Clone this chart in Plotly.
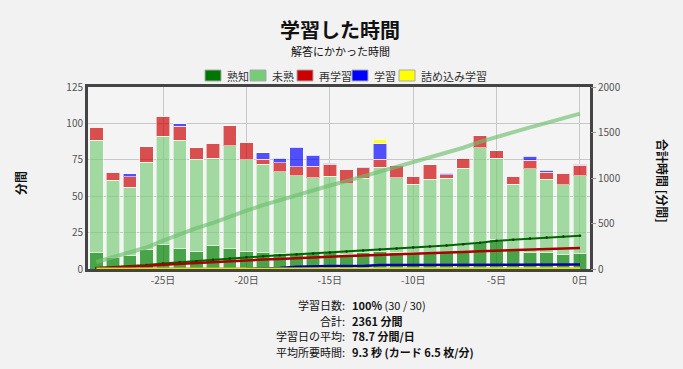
import numpy as np
import plotly.graph_objects as go

days = list(range(-29, 1))
mature = [11.6, 8.2, 9.3, 13.5, 16.7, 14.2, 12.3, 16.2, 14.4, 12.3,
          11.0, 10.5, 10.0, 10.5, 11.0, 10.0, 11.0, 12.0, 11.0, 11.0,
          11.6, 11.0, 11.6, 18.5, 20.4, 12.8, 11.6, 11.6, 10.0, 10.7]
young = [76.8, 52.8, 46.9, 59.7, 74.5, 74.2, 63.2, 59.8, 70.1, 62.8,
         60.8, 56.3, 54.2, 52.1, 52.8, 48.7, 51.2, 57.8, 51.8, 47.2,
         49.9, 51.2, 57.7, 64.8, 55.6, 45.4, 57.2, 50.1, 48.0, 53.5]
relearn = [8.8, 5.5, 7.1, 10.8, 13.6, 9.7, 7.8, 10.5, 14.0, 12.1,
           3.5, 6.2, 6.0, 8.1, 8.2, 9.7, 7.3, 5.5, 8.3, 5.6,
           10.1, 2.7, 6.7, 8.3, 5.3, 5.6, 5.8, 4.8, 7.6, 6.9]
learn = [0, 0, 2.1, 0, 0, 1.6, 0, 0, 0, 0,
         4.6, 3.0, 13.4, 7.3, 0.5, 0, 0.5, 10.8, 0, 0,
         0, 0.9, 0, 0, 0, 0, 3.0, 1.2, 0, 0.7]
cram = [0, 0, 0, 0, 0, 0, 0, 0, 0, 0,
        0, 0, 0, 0, 0, 0, 0, 3.0, 0, 0,
        0, 0, 0, 0, 0, 0, 0, 0, 0, 0]

series_names = ["熟知", "未熟", "再学習", "学習", "詰め込み学習"]
x_tickvals = [-25, -20, -15, -10, -5, 0]
x_ticktext = ["-25日", "-20日", "-15日", "-10日", "-5日", "0日"]

stat_labels = ["学習日数:", "合計:", "学習日の平均:", "平均所要時間:"]
stat_values = ["<b>100%</b> (30 / 30)", "<b>2361 分間</b>", "<b>78.7 分間/日</b>",
               "<b>9.3 秒 (カード 6.5 枚/分)</b>"]

FONT = "Noto Sans CJK JP"
BG = "#f2f2f2"
bar_colors = ["rgba(0,128,0,0.7)", "rgba(119,204,119,0.66)", "rgba(204,0,0,0.68)",
              "rgba(0,0,255,0.68)", "rgba(255,255,0,0.75)"]
legend_colors = ["#007700", "#77cc77", "#cc0000", "#0000ff", "#ffff00"]

# the page body adds an 8px offset; work in page pixels and convert
OFF = 8
W, H = 683 - OFF, 369 - OFF
L, R, T, B = 88 - OFF, 590 - OFF, 87 - OFF, 269 - OFF
PW, PH = R - L, B - T


def px(x):
    return (x - OFF - L) / PW


def py(y):
    return (B - (y - OFF)) / PH


fig = go.Figure()
data = [mature, young, relearn, learn, cram]
for name, vals, c in zip(series_names, data, bar_colors):
    fig.add_trace(go.Bar(x=days, y=vals, name=name, width=0.8,
                         marker=dict(color=c, line=dict(color="rgba(255,255,255,0.55)", width=1)),
                         showlegend=False))

line_styles = [
    dict(color="#006600", width=2),
    dict(color="rgba(110,190,110,0.65)", width=4),
    dict(color="#aa0000", width=2.5),
    dict(color="#0000aa", width=2.5),
    dict(color="#e0e000", width=3),
]
for i in [1, 0, 2, 3, 4]:
    cum = np.cumsum(data[i])
    if i == 0:
        kw = dict(mode="lines+markers", marker=dict(size=2.5, color="#1a331a"))
    else:
        kw = dict(mode="lines")
    fig.add_trace(go.Scatter(x=days, y=cum, yaxis="y2", line=line_styles[i],
                             showlegend=False, hoverinfo="skip", **kw))

annotations = [
    dict(text="<b>学習した時間</b>", x=px(340), y=py(29), xref="paper", yref="paper",
         xanchor="center", showarrow=False, font=dict(size=20, family=FONT, color="#111111"),
         yanchor="middle"),
    dict(text="解答にかかった時間", x=px(340), y=py(51), xref="paper", yref="paper",
         xanchor="center", showarrow=False, font=dict(size=11, family=FONT, color="#111111"),
         yanchor="middle"),
    dict(text="<b>分間</b>", x=px(20), y=py(183), xref="paper", yref="paper", xanchor="center",
         showarrow=False, textangle=-90, font=dict(size=12, family=FONT, color="#111111")),
    dict(text="<b>合計時間 [分間]</b>", x=px(663), y=py(181), xref="paper", xanchor="center",
         yref="paper", showarrow=False, textangle=90,
         font=dict(size=12, family=FONT, color="#111111")),
]
ys = [305, 321, 336, 352]
for lab, val, yp in zip(stat_labels, stat_values, ys):
    annotations.append(dict(text=lab, x=px(347), y=py(yp), xref="paper",
                            yref="paper", xanchor="right", yanchor="middle", showarrow=False,
                            font=dict(size=11, family=FONT, color="#111111")))
    annotations.append(dict(text=val, x=px(350), y=py(yp), xref="paper",
                            yref="paper", xanchor="left", yanchor="middle", showarrow=False,
                            font=dict(size=11, family=FONT, color="#111111")))

# hand-drawn compact legend (swatch + label)
legend_swatch_x = [205, 250, 297, 352, 399]
shapes = []
for name, c, sx in zip(series_names, legend_colors, legend_swatch_x):
    shapes.append(dict(type="rect", xref="paper", yref="paper",
                       x0=px(sx), x1=px(sx + 16), y0=py(81), y1=py(70),
                       fillcolor=c, line=dict(color="#aaaaaa", width=1)))
    annotations.append(dict(text=name, x=px(sx + 20), y=py(76), xref="paper", yref="paper",
                            xanchor="left", yanchor="middle", showarrow=False,
                            font=dict(size=11, family=FONT, color="#333333")))

fig.update_layout(
    width=W, height=H,
    margin=dict(l=L, r=W - R, t=T, b=H - B),
    paper_bgcolor=BG, plot_bgcolor="#f4f4f4",
    barmode="stack",
    showlegend=False,
    font=dict(family=FONT, size=10, color="#545454"),
    xaxis=dict(range=[-29.5, 0.6], tickvals=x_tickvals, ticktext=x_ticktext, showgrid=True,
               gridcolor="#c8c8c8", gridwidth=1, showline=True, mirror=True, linewidth=3,
               linecolor="#444444", zeroline=False, ticks="", tickfont=dict(size=10),
               automargin=False),
    yaxis=dict(range=[0, 125], dtick=25, showgrid=True, gridcolor="#c8c8c8", gridwidth=1,
               showline=True, mirror=True, linewidth=3, linecolor="#444444", zeroline=False,
               ticks="", tickfont=dict(size=10), automargin=False),
    yaxis2=dict(range=[0, 2000], dtick=500, overlaying="y", side="right", showgrid=False,
                zeroline=False, ticks="outside", ticklen=5, tickcolor="#999999",
                tickfont=dict(size=10), showline=False, automargin=False),
    annotations=annotations,
    shapes=shapes,
)

fig.write_html("out.html",
               post_script="document.body.style.background='%s';" % BG)
